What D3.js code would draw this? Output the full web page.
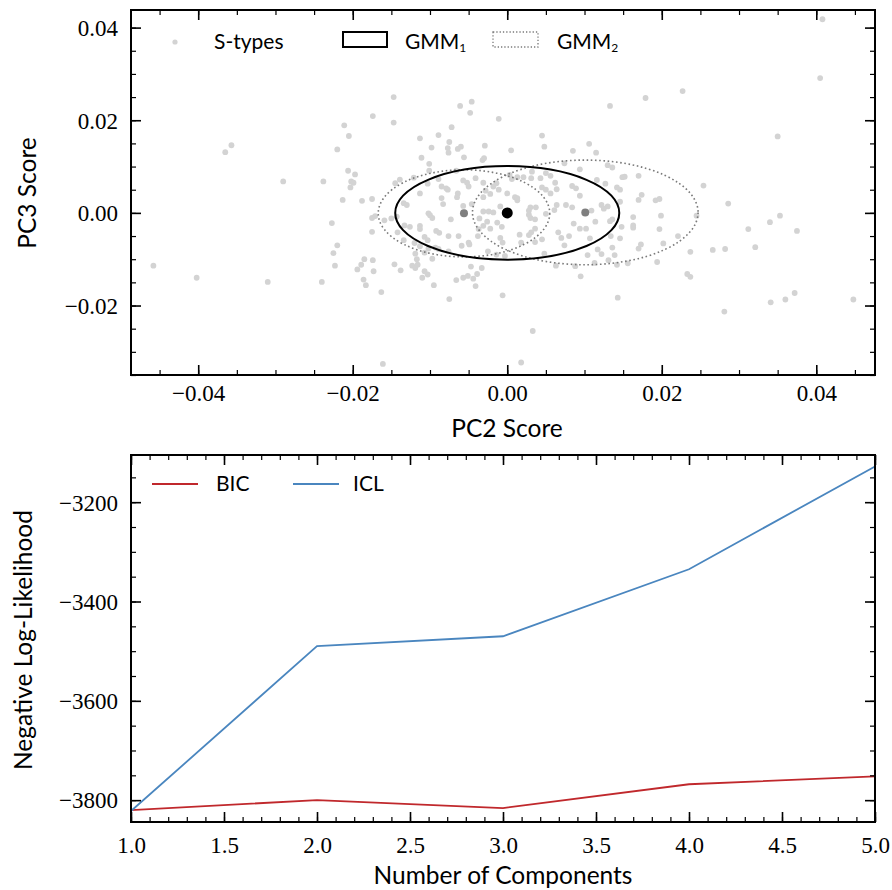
<!DOCTYPE html>
<html><head><meta charset="utf-8">
<script src="https://cdn.jsdelivr.net/npm/d3@7"></script>
<style>body{margin:0;background:#fff}svg{display:block}
.tk text{font-family:'Liberation Serif','DejaVu Serif',serif !important;}
</style>
</head><body>
<svg id="c" width="892" height="890"></svg>
<script>
// ---------- data: top panel (S-type PC scores) ----------
const sPC2 = [-0.0147,-0.0061,-0.0046,-0.0048,-0.0174,-0.0147,-0.0211,-0.0011,-0.0205,-0.0072,-0.0089,-0.0113,-0.0075,-0.0220,-0.0098,-0.0077,-0.0076,-0.0064,-0.0060,-0.0029,0.0005,-0.0111,-0.0056,-0.0032,-0.0030,-0.0101,-0.0101,-0.0206,-0.0197,-0.0238,-0.0202,-0.0199,-0.0203,-0.0145,-0.0139,-0.0121,-0.0103,-0.0089,-0.0085,-0.0077,-0.0079,-0.0066,-0.0057,-0.0052,-0.0050,-0.0041,-0.0031,-0.0028,-0.0018,-0.0014,-0.0011,0.0000,0.0006,0.0003,-0.0113,-0.0065,-0.0064,-0.0085,-0.0083,-0.0031,-0.0022,0.0010,0.0013,-0.0213,-0.0188,-0.0175,-0.0134,-0.0130,-0.0102,-0.0057,-0.0046,-0.0031,-0.0024,-0.0018,-0.0009,
0.0133,0.0179,0.0227,0.0045,0.0048,0.0106,0.0085,0.0115,0.0074,0.0094,0.0130,0.0136,0.0254,0.0013,0.0021,0.0031,0.0032,0.0043,0.0050,0.0056,0.0062,0.0116,0.0127,0.0149,0.0152,0.0170,0.0045,0.0050,0.0056,0.0064,0.0084,0.0089,0.0094,0.0142,0.0146,0.0174,0.0170,0.0192,0.0197,0.0146,0.0013,0.0030,0.0037,0.0028,0.0064,0.0061,0.0076,0.0084,0.0122,0.0130,0.0125,0.0109,
-0.0227,-0.0175,-0.0171,-0.0159,-0.0150,-0.0175,-0.0220,-0.0225,-0.0223,-0.0240,-0.0142,-0.0133,-0.0126,-0.0113,-0.0113,-0.0100,-0.0097,-0.0092,-0.0088,-0.0076,-0.0073,-0.0063,-0.0107,-0.0103,-0.0134,-0.0120,-0.0113,-0.0102,-0.0093,-0.0089,-0.0076,-0.0059,-0.0050,-0.0049,-0.0038,-0.0037,-0.0031,-0.0036,-0.0026,-0.0022,-0.0013,-0.0007,-0.0009,-0.0006,-0.0025,-0.0014,-0.0003,0.0016,-0.0119,-0.0117,-0.0107,-0.0097,-0.0123,-0.0116,-0.0119,-0.0146,-0.0138,-0.0107,-0.0103,-0.0110,-0.0185,-0.0174,-0.0189,-0.0194,-0.0173,-0.0186,-0.0183,-0.0163,-0.0095,-0.0066,-0.0057,-0.0051,-0.0044,-0.0039,-0.0033,-0.0047,-0.0041,-0.0075,-0.0006,
0.0028,0.0030,0.0036,0.0050,0.0086,0.0094,0.0102,0.0114,0.0136,0.0133,0.0148,0.0163,0.0163,0.0163,0.0199,0.0197,0.0221,0.0245,0.0266,0.0028,0.0031,0.0036,0.0045,0.0018,0.0036,0.0066,0.0070,0.0080,0.0074,0.0107,0.0134,0.0146,0.0117,0.0122,0.0136,0.0139,0.0104,0.0131,0.0113,0.0170,0.0173,0.0202,0.0237,0.0194,0.0048,0.0063,0.0088,0.0095,0.0142,0.0156,0.0233,0.0237,0.0143,0.0033,
-0.0365,-0.0357,-0.0290,-0.0458,-0.0402,-0.0310,-0.0161,-0.0143,0.0350,0.0286,0.0353,0.0340,0.0312,0.0375,0.0321,0.0282,0.0281,0.0341,0.0360,0.0372,0.0448,0.0018,0.0408,0.0405];
const sPC3 = [0.0250,0.0231,0.0240,0.0216,0.0209,0.0195,0.0189,0.0203,0.0166,0.0185,0.0168,0.0161,0.0153,0.0137,0.0141,0.0140,0.0130,0.0138,0.0143,0.0145,0.0135,0.0119,0.0120,0.0114,0.0118,0.0106,0.0091,0.0091,0.0083,0.0068,0.0068,0.0065,0.0055,0.0064,0.0072,0.0076,0.0063,0.0073,0.0057,0.0050,0.0053,0.0091,0.0070,0.0065,0.0057,0.0075,0.0065,0.0048,0.0057,0.0064,0.0050,0.0042,0.0073,0.0082,0.0042,0.0034,0.0042,0.0032,0.0019,0.0034,0.0041,0.0034,0.0027,0.0028,0.0026,0.0030,0.0021,0.0017,-0.0001,0.0015,0.0019,0.0003,0.0003,0.0001,0.0014,
0.0231,0.0248,0.0263,0.0167,0.0143,0.0149,0.0134,0.0130,0.0107,0.0094,0.0103,0.0098,0.0059,0.0077,0.0077,0.0075,0.0089,0.0075,0.0086,0.0080,0.0065,0.0071,0.0063,0.0077,0.0078,0.0080,0.0055,0.0050,0.0042,0.0051,0.0058,0.0053,0.0037,0.0055,0.0050,0.0039,0.0028,0.0027,0.0030,0.0024,0.0032,0.0012,0.0012,0.0005,0.0017,0.0006,0.0017,0.0012,0.0017,0.0014,0.0009,0.0005,
-0.0022,-0.0011,-0.0007,-0.0016,-0.0012,-0.0041,-0.0070,-0.0087,-0.0114,-0.0149,-0.0042,-0.0027,-0.0030,-0.0028,-0.0035,-0.0005,-0.0011,-0.0039,-0.0043,-0.0050,-0.0014,-0.0050,-0.0052,-0.0059,-0.0059,-0.0065,-0.0072,-0.0077,-0.0075,-0.0078,-0.0083,-0.0071,-0.0064,-0.0068,-0.0050,-0.0035,-0.0028,-0.0012,-0.0019,-0.0034,-0.0021,-0.0030,-0.0054,-0.0064,-0.0083,-0.0090,-0.0093,-0.0047,-0.0088,-0.0100,-0.0086,-0.0099,-0.0114,-0.0112,-0.0119,-0.0111,-0.0124,-0.0126,-0.0133,-0.0140,-0.0100,-0.0102,-0.0112,-0.0122,-0.0126,-0.0144,-0.0156,-0.0171,-0.0156,-0.0145,-0.0140,-0.0136,-0.0142,-0.0132,-0.0119,-0.0116,-0.0158,-0.0186,-0.0178,
-0.0004,-0.0011,-0.0014,-0.0002,-0.0023,-0.0034,-0.0034,-0.0019,-0.0014,-0.0018,-0.0030,-0.0009,-0.0027,-0.0032,-0.0006,-0.0035,-0.0050,-0.0006,-0.0080,-0.0048,-0.0042,-0.0034,-0.0057,-0.0064,-0.0063,-0.0042,-0.0054,-0.0050,-0.0070,-0.0055,-0.0050,-0.0055,-0.0079,-0.0089,-0.0075,-0.0091,-0.0091,-0.0102,-0.0108,-0.0077,-0.0068,-0.0066,-0.0084,-0.0106,-0.0088,-0.0114,-0.0115,-0.0137,-0.0112,-0.0109,-0.0132,-0.0138,-0.0183,-0.0255,
0.0131,0.0146,0.0068,-0.0114,-0.0140,-0.0149,-0.0326,-0.0008,0.0165,0.0020,-0.0006,-0.0020,-0.0035,-0.0039,-0.0074,-0.0078,-0.0213,-0.0193,-0.0187,-0.0173,-0.0187,-0.0323,0.0418,0.0291];

// GMM components (centre, semi-axes) in PC units
const gmm1Center = [0.0000, 0.0000];
const gmm1Radii  = [0.0145, 0.0101];
const gmm2Centers = [[-0.0056, -0.0001], [0.0101, 0.0001]];
const gmm2Radii   = [[0.0111, 0.0094], [0.0146, 0.0113]];

const topXTicks = [-0.04, -0.02, 0.00, 0.02, 0.04];
const topYTicks = [-0.02, 0.00, 0.02, 0.04];

// ---------- data: bottom panel ----------
const nComponents = [1, 2, 3, 4, 5];
const bic = [-3820, -3800, -3816, -3768, -3752];
const icl = [-3822, -3490, -3470, -3335, -3128];
const botXTicks = [1.0, 1.5, 2.0, 2.5, 3.0, 3.5, 4.0, 4.5, 5.0];
const botYTicks = [-3800, -3600, -3400, -3200];

// ---------- drawing ----------
const svg = d3.select("#c");
const TICKFONT = "'Liberation Serif', 'DejaVu Serif', serif";
const LABFONT = "Lato, 'Open Sans', sans-serif";
const L = 131, R = 875;
const fmtMinus = s => s.replace("-", "\u2212");

function frame(g, x, y, majX, minX, majY, minY, fmtX, fmtY, xLabelDy) {
  const [x0, x1] = x.range(), [y0, y1] = y.range();
  const mk = (axis, tr, cls) => g.append("g").attr("class", "tk").attr("transform", tr).call(axis)
      .call(a => a.select(".domain").remove())
      .call(a => a.selectAll("line").attr("stroke", "#000").attr("stroke-width", cls === "maj" ? 1.6 : 1.2));
  // minor
  mk(d3.axisBottom(x).tickValues(minX).tickSize(-5).tickFormat(""), `translate(0,${y0})`, "min");
  mk(d3.axisTop(x).tickValues(minX).tickSize(-5).tickFormat(""), `translate(0,${y1})`, "min");
  mk(d3.axisLeft(y).tickValues(minY).tickSize(-5).tickFormat(""), `translate(${x0},0)`, "min");
  mk(d3.axisRight(y).tickValues(minY).tickSize(-5).tickFormat(""), `translate(${x1},0)`, "min");
  // major
  const bx = mk(d3.axisBottom(x).tickValues(majX).tickSize(-10).tickPadding(0).tickFormat(fmtX), `translate(0,${y0})`, "maj");
  mk(d3.axisTop(x).tickValues(majX).tickSize(-10).tickFormat(""), `translate(0,${y1})`, "maj");
  const ly = mk(d3.axisLeft(y).tickValues(majY).tickSize(-10).tickPadding(0).tickFormat(fmtY), `translate(${x0},0)`, "maj");
  mk(d3.axisRight(y).tickValues(majY).tickSize(-10).tickFormat(""), `translate(${x1},0)`, "maj");
  bx.attr("font-family", TICKFONT);
  ly.attr("font-family", TICKFONT);
  bx.selectAll("text").attr("y", xLabelDy).attr("dy", "0").style("font-family", TICKFONT).attr("font-size", 23).attr("fill", "#000");
  ly.selectAll("text").attr("x", -13).attr("dy", "0.34em").style("font-family", TICKFONT).attr("font-size", 23).attr("fill", "#000");
  g.append("rect").attr("x", x0).attr("y", y1).attr("width", x1 - x0).attr("height", y0 - y1)
    .attr("fill", "none").attr("stroke", "#000").attr("stroke-width", 2);
}
const range = (a, b, s) => d3.range(Math.round(a / s), Math.round(b / s) + 1).map(i => +(i * s).toFixed(6));

// ===== top panel =====
const xT = d3.scaleLinear().domain([-0.0487, 0.0476]).range([L, R]);
const yT = d3.scaleLinear().domain([-0.0350, 0.0438]).range([375, 10]);
const gT = svg.append("g");
svg.append("clipPath").attr("id", "clipT").append("rect")
  .attr("x", L).attr("y", 10).attr("width", R - L).attr("height", 365);
const pts = gT.append("g").attr("clip-path", "url(#clipT)");
pts.selectAll("circle.s").data(d3.zip(sPC2, sPC3)).join("circle").attr("class", "s")
  .attr("cx", d => xT(d[0])).attr("cy", d => yT(d[1])).attr("r", 2.9).attr("fill", "#d3d3d3");
// GMM2 ellipses (dotted)
pts.selectAll("ellipse.g2").data(d3.zip(gmm2Centers, gmm2Radii)).join("ellipse").attr("class", "g2")
  .attr("cx", d => xT(d[0][0])).attr("cy", d => yT(d[0][1]))
  .attr("rx", d => xT(d[0][0] + d[1][0]) - xT(d[0][0]))
  .attr("ry", d => yT(d[0][1]) - yT(d[0][1] + d[1][1]))
  .attr("fill", "none").attr("stroke", "#7a7a7a").attr("stroke-width", 1.6)
  .attr("stroke-dasharray", "1.6,2.6");
// GMM1 ellipse
pts.append("ellipse")
  .attr("cx", xT(gmm1Center[0])).attr("cy", yT(gmm1Center[1]))
  .attr("rx", xT(gmm1Center[0] + gmm1Radii[0]) - xT(gmm1Center[0]))
  .attr("ry", yT(gmm1Center[1]) - yT(gmm1Center[1] + gmm1Radii[1]))
  .attr("fill", "none").attr("stroke", "#000").attr("stroke-width", 2);
// centres
pts.selectAll("circle.c2").data(gmm2Centers).join("circle").attr("class", "c2")
  .attr("cx", d => xT(d[0])).attr("cy", d => yT(d[1])).attr("r", 4).attr("fill", "#7f7f7f");
pts.append("circle").attr("cx", xT(gmm1Center[0])).attr("cy", yT(gmm1Center[1])).attr("r", 5.5).attr("fill", "#000");

frame(gT, xT, yT, topXTicks, range(-0.045, 0.045, 0.005), topYTicks, range(-0.035, 0.040, 0.005),
  d => fmtMinus(d3.format(".2f")(d)), d => fmtMinus(d3.format(".2f")(d)), 26);

// axis labels
svg.append("text").attr("x", (L + R) / 2 + 4).attr("y", 437).attr("text-anchor", "middle")
  .attr("font-family", LABFONT).attr("font-size", 24.5).text("PC2 Score");
svg.append("text").attr("transform", "translate(36,193) rotate(-90)").attr("text-anchor", "middle")
  .attr("font-family", LABFONT).attr("font-size", 24.5).text("PC3 Score");

// legend top
const lgT = svg.append("g").attr("font-family", LABFONT).attr("font-size", 21);
lgT.append("circle").attr("cx", 175).attr("cy", 42).attr("r", 2.6).attr("fill", "#d3d3d3");
lgT.append("text").attr("x", 214).attr("y", 49).text("S-types");
lgT.append("rect").attr("x", 343).attr("y", 32).attr("width", 44).attr("height", 15)
  .attr("fill", "none").attr("stroke", "#000").attr("stroke-width", 2);
const t1 = lgT.append("text").attr("x", 405).attr("y", 49).text("GMM");
t1.append("tspan").attr("font-size", 12).attr("dy", 3).text("1");
lgT.append("rect").attr("x", 493).attr("y", 32).attr("width", 45).attr("height", 15)
  .attr("fill", "none").attr("stroke", "#7a7a7a").attr("stroke-width", 1.3).attr("stroke-dasharray", "1.3,2");
const t2 = lgT.append("text").attr("x", 557).attr("y", 49).text("GMM");
t2.append("tspan").attr("font-size", 12).attr("dy", 3).text("2");

// ===== bottom panel =====
const xB = d3.scaleLinear().domain([1, 5]).range([L, R]);
const yB = d3.scaleLinear().domain([-3844, -3105]).range([822, 455]);
const gB = svg.append("g");
svg.append("clipPath").attr("id", "clipB").append("rect")
  .attr("x", L).attr("y", 455).attr("width", R - L).attr("height", 367);
const line = d3.line().x((d, i) => xB(nComponents[i])).y(d => yB(d));
const lines = gB.append("g").attr("clip-path", "url(#clipB)");
lines.append("path").attr("d", line(bic)).attr("fill", "none").attr("stroke", "#c0282c").attr("stroke-width", 1.8);
lines.append("path").attr("d", line(icl)).attr("fill", "none").attr("stroke", "#4a86bf").attr("stroke-width", 1.8);

frame(gB, xB, yB, botXTicks, range(1, 5, 0.1), botYTicks, range(-3800, -3150, 50),
  d => d3.format(".1f")(d), d => fmtMinus(d3.format("d")(d)), 31);

svg.append("text").attr("x", (L + R) / 2).attr("y", 884).attr("text-anchor", "middle")
  .attr("font-family", LABFONT).attr("font-size", 24.5).text("Number of Components");
svg.append("text").attr("transform", "translate(32,640) rotate(-90)").attr("text-anchor", "middle")
  .attr("font-family", LABFONT).attr("font-size", 24.5).text("Negative Log-Likelihood");

// legend bottom
const lgB = svg.append("g").attr("font-family", LABFONT).attr("font-size", 21);
lgB.append("line").attr("x1", 152).attr("x2", 198).attr("y1", 484).attr("y2", 484).attr("stroke", "#c0282c").attr("stroke-width", 1.8);
lgB.append("text").attr("x", 216).attr("y", 491).text("BIC");
lgB.append("line").attr("x1", 293).attr("x2", 339).attr("y1", 484).attr("y2", 484).attr("stroke", "#4a86bf").attr("stroke-width", 1.8);
lgB.append("text").attr("x", 353).attr("y", 491).text("ICL");
</script>
</body></html>
